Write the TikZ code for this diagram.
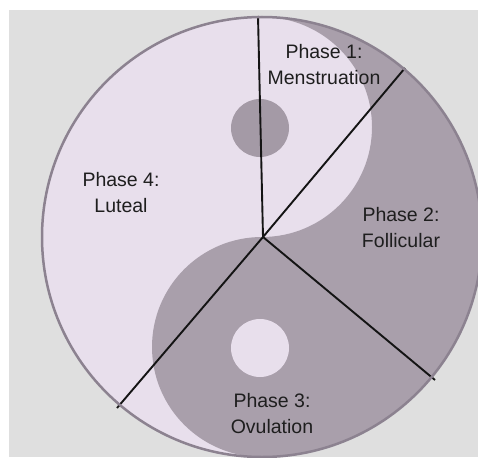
\documentclass[tikz,border=0pt]{standalone}
\usepackage{fontspec}
\setmainfont{Liberation Sans}
\definecolor{bgwhite}{HTML}{FFFFFF}
\definecolor{bggrey}{HTML}{DFDFDF}
\definecolor{lightlav}{HTML}{E8DFEC}
\definecolor{darklav}{HTML}{A99FAB}
\definecolor{dotdark}{HTML}{A49AA6}
\definecolor{rimcol}{HTML}{8C8290}
\definecolor{txtcol}{HTML}{1E1E1E}
\tikzset{
  divider/.style={draw=black!92, line width=1.9pt},
  phaselabel/.style={anchor=base, align=center, text=txtcol, inner sep=0pt,
    font=\fontsize{19.5}{26}\selectfont},
}
\begin{document}
\begin{tikzpicture}[x=1pt,y=-1pt]
\useasboundingbox (0,0) rectangle (478,457);
\fill[bgwhite] (0,0) rectangle (478,457);
\fill[bggrey] (9,10) rectangle (478,457);
\begin{scope}
\clip (0,0) rectangle (478,457);
% big circle light
\fill[lightlav] (262,237) circle[radius=220];
% dark yin
\fill[darklav] (262,17) arc[start angle=-90, end angle=90, radius=220]
  arc[start angle=90, end angle=270, radius=110]
  arc[start angle=90, end angle=-90, radius=110] -- cycle;
% dots
\fill[dotdark] (260,128) circle[radius=29];
\fill[lightlav] (260,348) circle[radius=29];
% dividers
\coordinate (c) at (263,237);
\coordinate (e1) at (258,16);
\coordinate (e2) at (405,68);
\coordinate (e3) at (435,380);
\coordinate (e4) at (117,408);
\draw[divider] (c) -- (e1);
\draw[divider] (c) -- (e2);
\draw[divider] (c) -- (e3);
\draw[divider] (c) -- (e4);
% rim
\draw[rimcol, line width=2.5pt] (262,237) circle[radius=220];
\end{scope}
\node[phaselabel] (p1) at (324,85) {Phase 1:\\Menstruation};
\node[phaselabel] (p4) at (121,212) {Phase 4:\\Luteal};
\node[phaselabel] (p2) at (401,247) {Phase 2:\\Follicular};
\node[phaselabel] (p3) at (272,433) {Phase 3:\\Ovulation};
\end{tikzpicture}
\end{document}
